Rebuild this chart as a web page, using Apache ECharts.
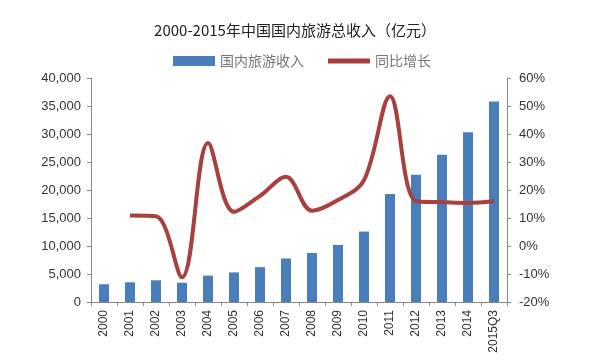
<!DOCTYPE html>
<html><head><meta charset="utf-8">
<script src="https://cdn.jsdelivr.net/npm/echarts@6/dist/echarts.min.js"></script>
<style>html,body{margin:0;padding:0;background:#fff}#c{width:600px;height:363px}</style>
</head><body><div id="c"></div>
<script>
const categories = ['2000','2001','2002','2003','2004','2005','2006','2007','2008','2009','2010','2011','2012','2013','2014','2015Q3'];
const revenue = [3175, 3522, 3878, 3442, 4711, 5286, 6230, 7771, 8749, 10184, 12580, 19305, 22706, 26276, 30312, 35800];
const growth = [null, 10.9, 10.6, -11.2, 36.8, 12.2, 17.9, 24.7, 12.6, 16.4, 23.5, 53.5, 16.0, 15.7, 15.4, 16.0];
const leftTicks = [0, 40000, 5000];
const rightTicks = [-20, 60, 10];

const chart = echarts.init(document.getElementById('c'));
const font = 'Liberation Sans, Arial, sans-serif';
chart.setOption({
  animation: false,
  title: { text: '2000-2015年中国国内旅游总收入（亿元）', left: 290, top: 18, textAlign: 'center',
    textStyle: { fontSize: 15, fontWeight: 'normal', color: '#222', fontFamily: 'Noto Sans CJK SC' } },
  legend: { top: 49, left: 168, itemGap: 24, itemWidth: 42, itemHeight: 10,
    textStyle: { fontSize: 14, color: '#777', fontFamily: 'Noto Sans CJK SC' },
    data: [{ name: '国内旅游收入', icon: 'rect' }, { name: '同比增长', icon: 'path://M0,0H42V5H0Z' }] },
  grid: { left: 91, right: 93, top: 78, bottom: 61 },
  xAxis: { type: 'category', data: categories,
    axisLine: { lineStyle: { color: '#888' } },
    axisTick: { show: true, alignWithLabel: false, lineStyle: { color: '#888' }, length: 4 },
    axisLabel: { rotate: 90, fontSize: 12, color: '#333', margin: 8, fontFamily: font } },
  yAxis: [
    { type: 'value', min: leftTicks[0], max: leftTicks[1], interval: leftTicks[2], splitLine: { show: false },
      axisLine: { show: true, lineStyle: { color: '#888' } },
      axisTick: { show: true, length: 4, lineStyle: { color: '#888' } },
      axisLabel: { fontSize: 13, color: '#333', margin: 10, fontFamily: font,
        formatter: v => v.toLocaleString('en-US') } },
    { type: 'value', min: rightTicks[0], max: rightTicks[1], interval: rightTicks[2], splitLine: { show: false },
      axisLine: { show: true, lineStyle: { color: '#888' } },
      axisTick: { show: true, length: 4, lineStyle: { color: '#888' } },
      axisLabel: { fontSize: 13, color: '#333', margin: 12, fontFamily: font, formatter: v => v + '%' } }
  ],
  series: [
    { name: '国内旅游收入', type: 'bar', data: revenue, barWidth: 10, itemStyle: { color: '#4a7ebb' } },
    { name: '同比增长', type: 'line', yAxisIndex: 1, data: growth, smooth: 0.35, symbol: 'none',
      lineStyle: { color: '#a8403e', width: 4 }, itemStyle: { color: '#a8403e' } }
  ]
});
</script></body></html>
